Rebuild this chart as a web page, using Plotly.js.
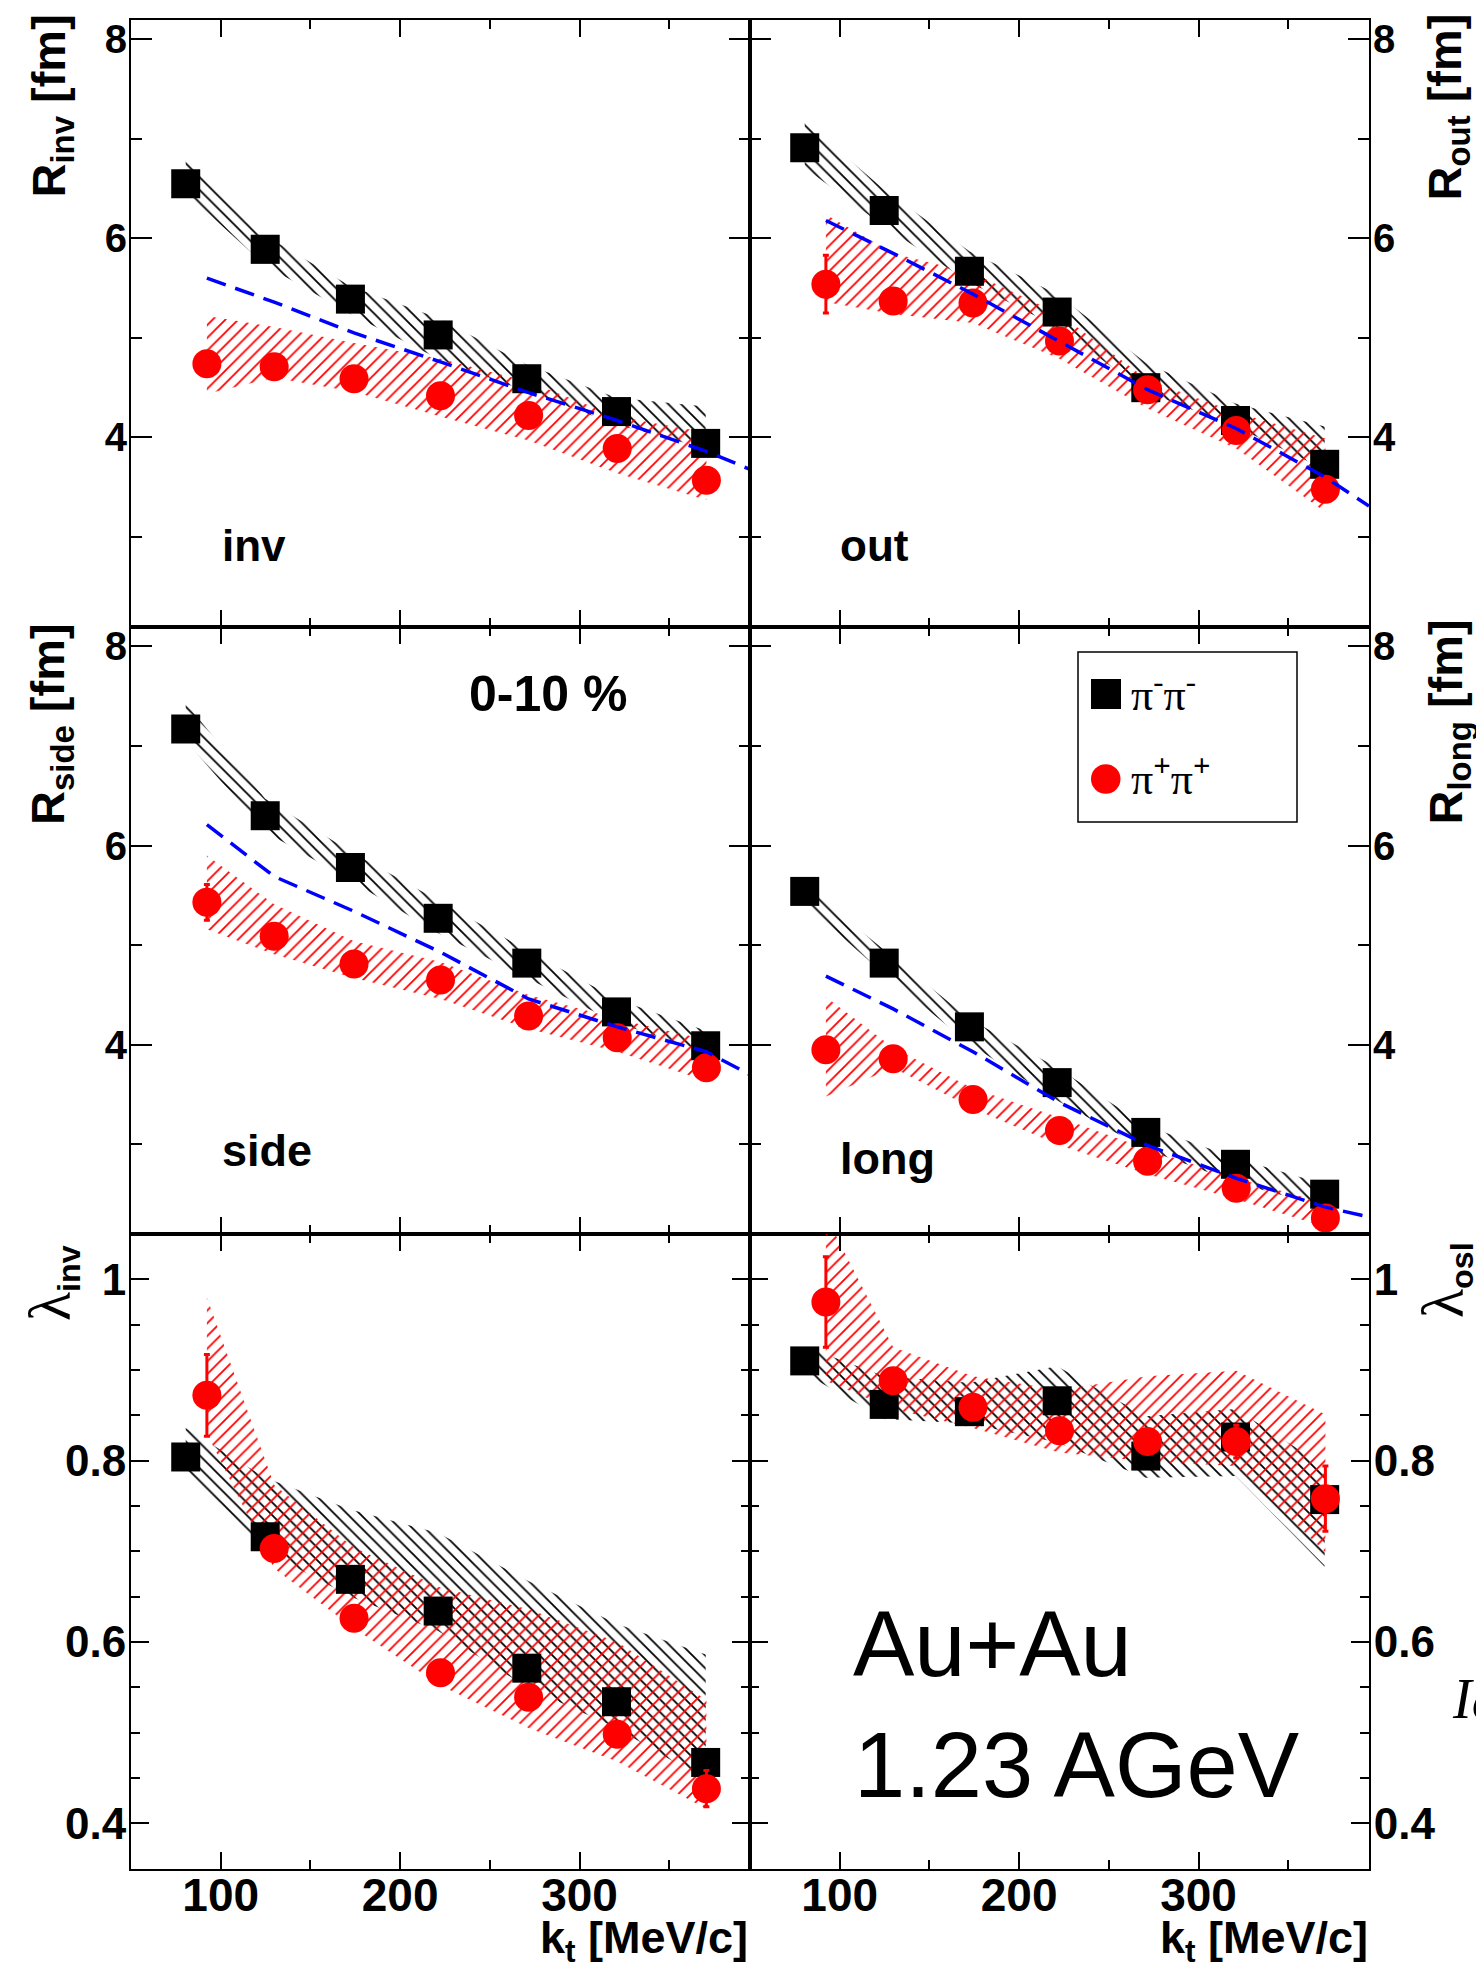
<!DOCTYPE html>
<html>
<head>
<meta charset="utf-8">
<script src="https://cdn.plot.ly/plotly-3.0.1.min.js"></script>
<style>html,body{margin:0;padding:0;background:#fff;overflow:hidden}</style>
</head>
<body>
<div id="chart" style="width:1476px;height:1965px"></div>
<script>
// ---------------- data ----------------
const ktNeg   = [80.5, 124.8, 172.3, 221.2, 270.6, 320.6, 370.3];   // pi- pi- mean kt [MeV/c]
const ktPos   = [92.3, 129.8, 174.3, 222.5, 271.6, 321.0, 370.7];   // pi+ pi+ mean kt [MeV/c]
const ktModel = [92.3, 129.8, 174.3, 222.5, 271.6, 321.0, 370.7, 395];

// R_inv
const rInvNeg    = [6.55, 5.89, 5.39, 5.03, 4.59, 4.26, 3.94];
const rInvNegHi  = [6.79, 6.03, 5.52, 5.20, 4.73, 4.40, 4.31];
const rInvNegLo  = [6.46, 5.73, 5.24, 4.79, 4.46, 4.13, 3.89];
const rInvPos    = [4.74, 4.71, 4.59, 4.42, 4.22, 3.89, 3.57];
const rInvPosHi  = [5.22, 5.11, 4.95, 4.79, 4.56, 4.21, 4.05];
const rInvPosLo  = [4.44, 4.60, 4.46, 4.21, 3.97, 3.64, 3.37];
const rInvPosErr = [0.08, 0.05, 0.05, 0.05, 0.05, 0.05, 0.06];
const rInvModel  = [5.60, 5.36, 5.05, 4.76, 4.45, 4.17, 3.86, 3.68];

// R_out
const rOutNeg    = [6.91, 6.28, 5.67, 5.26, 4.50, 4.17, 3.73];
const rOutNegHi  = [7.18, 6.49, 5.87, 5.44, 4.75, 4.34, 4.11];
const rOutNegLo  = [6.71, 6.12, 5.56, 5.11, 4.46, 4.11, 3.68];
const rOutPos    = [5.54, 5.37, 5.35, 4.97, 4.48, 4.07, 3.48];
const rOutPosHi  = [6.24, 5.85, 5.65, 5.24, 4.58, 4.25, 3.99];
const rOutPosLo  = [5.36, 5.24, 5.15, 4.79, 4.29, 3.89, 3.25];
const rOutPosErr = [0.29, 0.06, 0.05, 0.05, 0.05, 0.05, 0.10];
const rOutModel  = [6.18, 5.85, 5.44, 4.96, 4.48, 4.09, 3.60, 3.31];

// R_side
const rSideNeg    = [7.17, 6.30, 5.78, 5.27, 4.82, 4.33, 3.99];
const rSideNegHi  = [7.43, 6.47, 5.94, 5.45, 4.95, 4.46, 4.14];
const rSideNegLo  = [7.05, 6.14, 5.65, 5.12, 4.67, 4.22, 3.93];
const rSidePos    = [5.43, 5.09, 4.81, 4.65, 4.29, 4.07, 3.77];
const rSidePosHi  = [5.90, 5.41, 5.04, 4.83, 4.50, 4.26, 4.05];
const rSidePosLo  = [5.16, 4.91, 4.67, 4.46, 4.16, 3.93, 3.64];
const rSidePosErr = [0.18, 0.06, 0.05, 0.05, 0.05, 0.05, 0.05];
const rSideModel  = [6.21, 5.69, 5.34, 4.93, 4.46, 4.18, 3.93, 3.70];

// R_long
const rLongNeg    = [5.54, 4.82, 4.18, 3.62, 3.12, 2.80, 2.50];
const rLongNegHi  = [5.60, 4.95, 4.26, 3.77, 3.19, 2.86, 2.60];
const rLongNegLo  = [5.41, 4.71, 4.01, 3.44, 2.95, 2.62, 2.37];
const rLongPos    = [3.95, 3.86, 3.45, 3.14, 2.83, 2.56, 2.26];
const rLongPosHi  = [4.48, 3.97, 3.56, 3.27, 2.95, 2.66, 2.41];
const rLongPosLo  = [3.48, 3.77, 3.36, 2.99, 2.70, 2.45, 2.17];
const rLongPosErr = [0.08, 0.05, 0.05, 0.05, 0.05, 0.05, 0.05];
const rLongModel  = [4.69, 4.36, 3.93, 3.42, 2.99, 2.66, 2.37, 2.27];

// lambda_inv
const lInvNeg    = [0.804, 0.716, 0.669, 0.634, 0.571, 0.534, 0.467];
const lInvNegHi  = [0.836, 0.781, 0.746, 0.720, 0.668, 0.620, 0.586];
const lInvNegLo  = [0.785, 0.700, 0.650, 0.612, 0.550, 0.505, 0.447];
const lInvPos    = [0.872, 0.703, 0.626, 0.566, 0.539, 0.498, 0.438];
const lInvPosHi  = [0.980, 0.773, 0.704, 0.660, 0.636, 0.600, 0.536];
const lInvPosLo  = [0.830, 0.681, 0.615, 0.552, 0.505, 0.468, 0.416];
const lInvPosErr = [0.045, 0.010, 0.010, 0.010, 0.010, 0.010, 0.020];

// lambda_osl
const lOslNeg    = [0.910, 0.862, 0.854, 0.866, 0.805, 0.826, 0.757];
const lOslNegHi  = [0.926, 0.893, 0.886, 0.904, 0.849, 0.857, 0.794];
const lOslNegLo  = [0.896, 0.846, 0.841, 0.820, 0.781, 0.783, 0.683];
const lOslPos    = [0.975, 0.888, 0.859, 0.833, 0.821, 0.821, 0.758];
const lOslPosHi  = [1.070, 0.925, 0.893, 0.878, 0.893, 0.899, 0.851];
const lOslPosLo  = [0.888, 0.857, 0.836, 0.809, 0.799, 0.794, 0.699];
const lOslPosErr = [0.050, 0.010, 0.010, 0.010, 0.010, 0.018, 0.036];

// texts
const seriesLabels = ['π<sup>-</sup>π<sup>-</sup>', 'π<sup><b>+</b></sup>π<sup><b>+</b></sup>'];
const panelLabels  = ['inv', 'out', 'side', 'long'];
const LAM = '<span style="font-family:Liberation Serif;font-weight:normal;font-size:60px">λ</span>';
const yTitles = ['R<sub>inv</sub> [fm]', 'R<sub>out</sub> [fm]', 'R<sub>side</sub> [fm]', 'R<sub>long</sub> [fm]',
                 LAM + '<sub>inv</sub>', LAM + '<sub>osl</sub>'];
const xTitle = 'k<sub>t</sub> [MeV/c]';

// ---------------- geometry ----------------
const W = 1476, H = 1965;
const PX = {left: 131, mid: 750, right: 1369, top: 19.5, r1: 626.5, r2: 1234, bottom: 1868.5};
const fx = p => p / W;
const fy = p => 1 - p / H;
const SANS = 'Liberation Sans, Arial, Helvetica, sans-serif';
const SERIF = 'Liberation Serif, Times New Roman, serif';

const panels = [
  {neg: rInvNeg,  hi: rInvNegHi,  lo: rInvNegLo,  pos: rInvPos,  phi: rInvPosHi,  plo: rInvPosLo,  err: rInvPosErr,  model: rInvModel},
  {neg: rOutNeg,  hi: rOutNegHi,  lo: rOutNegLo,  pos: rOutPos,  phi: rOutPosHi,  plo: rOutPosLo,  err: rOutPosErr,  model: rOutModel},
  {neg: rSideNeg, hi: rSideNegHi, lo: rSideNegLo, pos: rSidePos, phi: rSidePosHi, plo: rSidePosLo, err: rSidePosErr, model: rSideModel},
  {neg: rLongNeg, hi: rLongNegHi, lo: rLongNegLo, pos: rLongPos, phi: rLongPosHi, plo: rLongPosLo, err: rLongPosErr, model: rLongModel},
  {neg: lInvNeg,  hi: lInvNegHi,  lo: lInvNegLo,  pos: lInvPos,  phi: lInvPosHi,  plo: lInvPosLo,  err: lInvPosErr,  model: null},
  {neg: lOslNeg,  hi: lOslNegHi,  lo: lOslNegLo,  pos: lOslPos,  phi: lOslPosHi,  plo: lOslPosLo,  err: lOslPosErr,  model: null}
];

function band(x, hi, lo, color, shape, xa, ya) {
  return {
    x: x.concat(x.slice().reverse()),
    y: hi.concat(lo.slice().reverse()),
    mode: 'lines', fill: 'toself', fillcolor: 'rgba(0,0,0,0)',
    line: {width: 0, color: 'rgba(0,0,0,0)'},
    fillpattern: {shape: shape, fgcolor: color, fgopacity: 1, bgcolor: 'rgba(0,0,0,0)',
                  size: 9, solidity: 0.2, fillmode: 'overlay'},
    xaxis: xa, yaxis: ya, hoverinfo: 'skip', showlegend: false
  };
}

const traces = [];
panels.forEach((p, k) => {
  const i = k + 1;
  const xa = i === 1 ? 'x' : 'x' + i;
  const ya = i === 1 ? 'y' : 'y' + i;
  traces.push(band(ktNeg, p.hi, p.lo, 'black', '\\', xa, ya));
  traces.push(band(ktPos, p.phi, p.plo, '#ff0000', '/', xa, ya));
  traces.push({x: ktNeg, y: p.neg, mode: 'markers', name: seriesLabels[0],
    marker: {symbol: 'square', size: 29, color: 'black'}, xaxis: xa, yaxis: ya, showlegend: false});
  traces.push({x: ktPos, y: p.pos, mode: 'markers', name: seriesLabels[1],
    marker: {symbol: 'circle', size: 29, color: '#ff0000'},
    error_y: {type: 'data', array: p.err, color: '#ff0000', thickness: 3, width: 3},
    xaxis: xa, yaxis: ya, showlegend: false});
  if (p.model) {
    traces.push({x: ktModel, y: p.model, mode: 'lines',
      line: {color: '#0000ff', width: 3.5, dash: '20px,10px'}, xaxis: xa, yaxis: ya, showlegend: false});
  }
});

const layout = {
  width: W, height: H, margin: {l: 0, r: 0, t: 0, b: 0},
  paper_bgcolor: 'white', plot_bgcolor: 'rgba(0,0,0,0)', showlegend: false,
  annotations: [], shapes: []
};

const rowY = [[fy(PX.r1), fy(PX.top)], [fy(PX.r2), fy(PX.r1)], [fy(PX.bottom), fy(PX.r2)]];
const colX = [[fx(PX.left), fx(PX.mid)], [fx(PX.mid), fx(PX.right)]];

for (let i = 1; i <= 6; i++) {
  const col = (i - 1) % 2, row = Math.floor((i - 1) / 2);
  const xk = i === 1 ? 'xaxis' : 'xaxis' + i;
  const yk = i === 1 ? 'yaxis' : 'yaxis' + i;
  const isLam = row === 2;
  layout[xk] = {
    domain: colX[col], range: [50, 395], anchor: i === 1 ? 'y' : 'y' + i,
    showline: true, linecolor: 'black', linewidth: 2, mirror: 'ticks',
    ticks: 'inside', ticklen: 17, tickwidth: 2, tickcolor: 'black',
    tickmode: 'linear', tick0: 0, dtick: 100,
    minor: {ticks: 'inside', ticklen: 9, tickwidth: 2, tickcolor: 'black', tick0: 0, dtick: 50},
    showticklabels: isLam, showgrid: false, zeroline: false, fixedrange: true,
    ticklabelstandoff: -15,
    tickfont: {family: SANS, size: 46, color: 'black', weight: 'bold'}
  };
  layout[yk] = {
    domain: rowY[row], range: isLam ? [0.35, 1.05] : [2.1, 8.2], anchor: i === 1 ? 'x' : 'x' + i,
    side: col === 0 ? 'left' : 'right',
    showline: true, linecolor: 'black', linewidth: 2, mirror: 'ticks',
    ticks: 'inside', ticklen: isLam ? 18 : 21, tickwidth: 2, tickcolor: 'black',
    tickmode: 'linear', tick0: 0, dtick: isLam ? 0.2 : 2,
    minor: {ticks: 'inside', ticklen: isLam ? 9 : 11, tickwidth: 2, tickcolor: 'black', tick0: 0, dtick: isLam ? 0.05 : 1},
    showgrid: false, zeroline: false, fixedrange: true, ticklabelstandoff: -6,
    tickfont: {family: SANS, size: isLam ? 44 : 40, color: 'black', weight: 'bold'}
  };
}

function ann(text, xpx, ypx, o) {
  layout.annotations.push(Object.assign({
    text: text, xref: 'paper', yref: 'paper', x: fx(xpx), y: fy(ypx),
    showarrow: false, xanchor: 'left', yanchor: 'bottom',
    font: {family: SANS, size: 44, color: 'black', weight: 'bold'}
  }, o || {}));
}

// panel labels
ann(panelLabels[0], 220, 572);
ann(panelLabels[1], 838, 572);
ann(panelLabels[2], 220, 1178, {font: {family: SANS, size: 45, color: 'black', weight: 'bold'}});
ann(panelLabels[3], 838, 1186, {font: {family: SANS, size: 45, color: 'black', weight: 'bold'}});
ann('0-10 %', 467, 724, {font: {family: SANS, size: 50, color: 'black', weight: 'bold'}});
ann('Au+Au', 851, 1697, {font: {family: SANS, size: 92, color: 'black', weight: 'normal'}});
ann('1.23 AGeV', 852, 1818, {font: {family: SANS, size: 92, color: 'black', weight: 'normal'}});
ann('Id', 1450, 1732, {font: {family: SERIF, size: 56, color: 'black', style: 'italic', weight: 'normal'}});

// y titles (rotated)
const tfont = {family: SANS, size: 47, color: 'black', weight: 'bold'};
const lfont = {family: SANS, size: 46, color: 'black', weight: 'bold'};
ann(yTitles[0], 19, 200, {textangle: -90, font: tfont});
ann(yTitles[1], 1416, 203, {textangle: -90, font: tfont});
ann(yTitles[2], 19, 827, {textangle: -90, font: tfont});
ann(yTitles[3], 1416, 827, {textangle: -90, font: tfont});
ann(yTitles[4], 15, 1323, {textangle: -90, font: lfont});
ann(yTitles[5], 1408, 1320, {textangle: -90, font: lfont});
// x titles
const xfont = {family: SANS, size: 45, color: 'black', weight: 'bold'};
ann(xTitle, 750, 1910, {xanchor: 'right', yanchor: 'top', font: xfont});
ann(xTitle, 1370, 1910, {xanchor: 'right', yanchor: 'top', font: xfont});

// legend box
layout.shapes.push({type: 'rect', xref: 'paper', yref: 'paper', x0: fx(1078), x1: fx(1297), y0: fy(652), y1: fy(822),
  line: {color: 'black', width: 1.5}, fillcolor: 'white', layer: 'above'});
layout.shapes.push({type: 'rect', xref: 'paper', yref: 'paper', x0: fx(1091), x1: fx(1121), y0: fy(679), y1: fy(709),
  line: {width: 0}, fillcolor: 'black', layer: 'above'});
layout.shapes.push({type: 'circle', xref: 'paper', yref: 'paper', x0: fx(1091), x1: fx(1120.5), y0: fy(764.3), y1: fy(793.7),
  line: {width: 0}, fillcolor: '#ff0000', layer: 'above'});
ann(seriesLabels[0], 1129, 722, {font: {family: SERIF, size: 44, color: 'black', weight: 'normal'}});
ann(seriesLabels[1], 1129, 806, {font: {family: SERIF, size: 44, color: 'black', weight: 'normal'}});

Plotly.newPlot('chart', traces, layout, {displayModeBar: false, staticPlot: true});
</script>
</body>
</html>
